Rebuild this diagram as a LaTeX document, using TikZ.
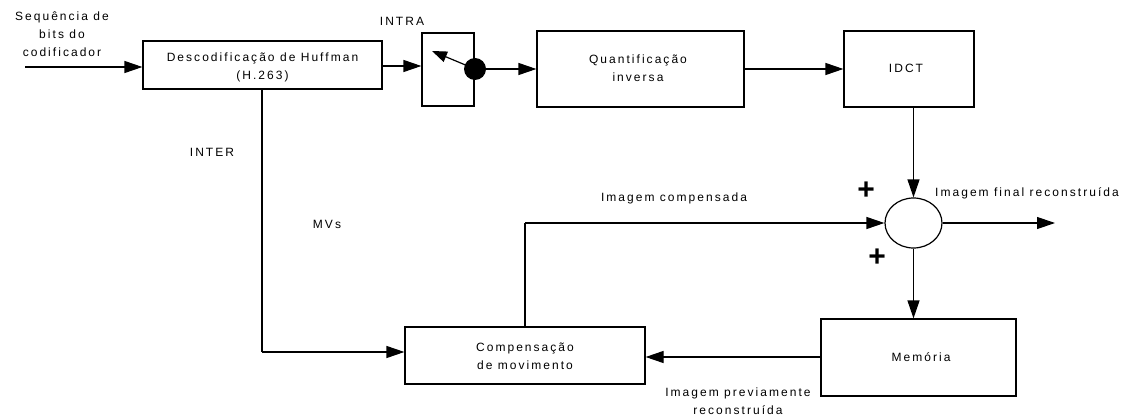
\documentclass[tikz,border=0pt]{standalone}
\usepackage{fontspec}
\usetikzlibrary{arrows.meta,shapes.geometric}
\newfontfamily\lblfont[LetterSpace=17]{Liberation Sans}
\newfontfamily\plusfont{Liberation Sans}
\tikzset{
  lbl/.style={font=\lblfont\fontsize{12}{18}\selectfont, align=center, inner sep=0pt},
  blk/.style={draw, line width=1.2pt},
  conn/.style={line width=1.2pt},
  arr/.style={conn, -{Triangle[length=18pt,width=12pt]}},
  pl/.style={font=\plusfont\bfseries\fontsize{30}{30}\selectfont, inner sep=0pt}
}
\begin{document}
\begin{tikzpicture}[x=1pt,y=-1pt]
\useasboundingbox (0,0) rectangle (1130,417);
% blocks
\node[blk, minimum width=239pt, minimum height=48pt] (huff) at (262.5,65) {};
\node[lbl] (hufft) at (262.5,67) {Descodificação de Huffman\\(H.263)};
\node[blk, minimum width=52pt, minimum height=73pt] (sw) at (448,69.5) {};
\node[blk, minimum width=207pt, minimum height=76pt] (quant) at (640.5,69) {};
\node[lbl] (quantt) at (638,68) {Quantificação\\inversa};
\node[blk, minimum width=130pt, minimum height=76pt] (idct) at (909,69) {};
\node[lbl] (idctt) at (906,68) {IDCT};
\node[blk, ellipse, minimum width=57pt, minimum height=50pt, inner sep=0pt] (sum) at (913.5,223) {};
\node[blk, minimum width=195pt, minimum height=77pt] (mem) at (918.5,357.5) {};
\node[lbl] (memt) at (921,357) {Memória};
\node[blk, minimum width=240pt, minimum height=57pt] (comp) at (525,355.5) {};
\node[lbl] (compt) at (525,356) {Compensação\\de movimento};
% switch
\node[circle, fill=black, minimum size=22pt, inner sep=0pt] (dot) at (475,69) {};
\coordinate (lev) at (432,51);
\draw[conn, -{Triangle[length=15pt,width=11pt]}] (dot.center) -- (lev);
% labels
\node[lbl] (seq) at (62,34) {Sequência de\\bits do\\codificador};
\node[lbl] (intra) at (402,21) {INTRA};
\node[lbl] (inter) at (212,152) {INTER};
\node[lbl] (mvs) at (327,224) {MVs};
\node[lbl] (icomp) at (674,198) {Imagem compensada};
\node[lbl, anchor=west] (ifinal) at (935,193) {Imagem final reconstruída};
\node[lbl] (iprev) at (738,401) {Imagem previamente\\reconstruída};
\node[pl] (p1) at (866,191) {+};
\node[pl] (p2) at (877,258) {+};
% connectors
\coordinate (in) at (25,67);
\draw[arr] (in) -- (in -| huff.west);
\draw[arr] (huff.east |- 0,66) -- (sw.west |- 0,66);
\draw[arr] (dot.east) -- (quant.west |- dot);
\draw[arr] (quant.east |- 0,69) -- (idct.west |- 0,69);
\draw[arr] (idct.south -| 913.5,0) -- (sum.north);
\coordinate (out) at (1055,223);
\draw[arr] (sum.east) -- (out);
\draw[arr] (sum.south) -- (mem.north -| sum.south);
\draw[arr] (mem.west |- 0,357) -- (comp.east |- 0,357);
\draw[conn] (comp.north) -- (525,223);
\draw[arr] (525,223) -- (sum.west);
\draw[conn] (262,89) -- (262,352);
\draw[arr] (262,352) -- (comp.west |- 0,352);
\end{tikzpicture}
\end{document}
